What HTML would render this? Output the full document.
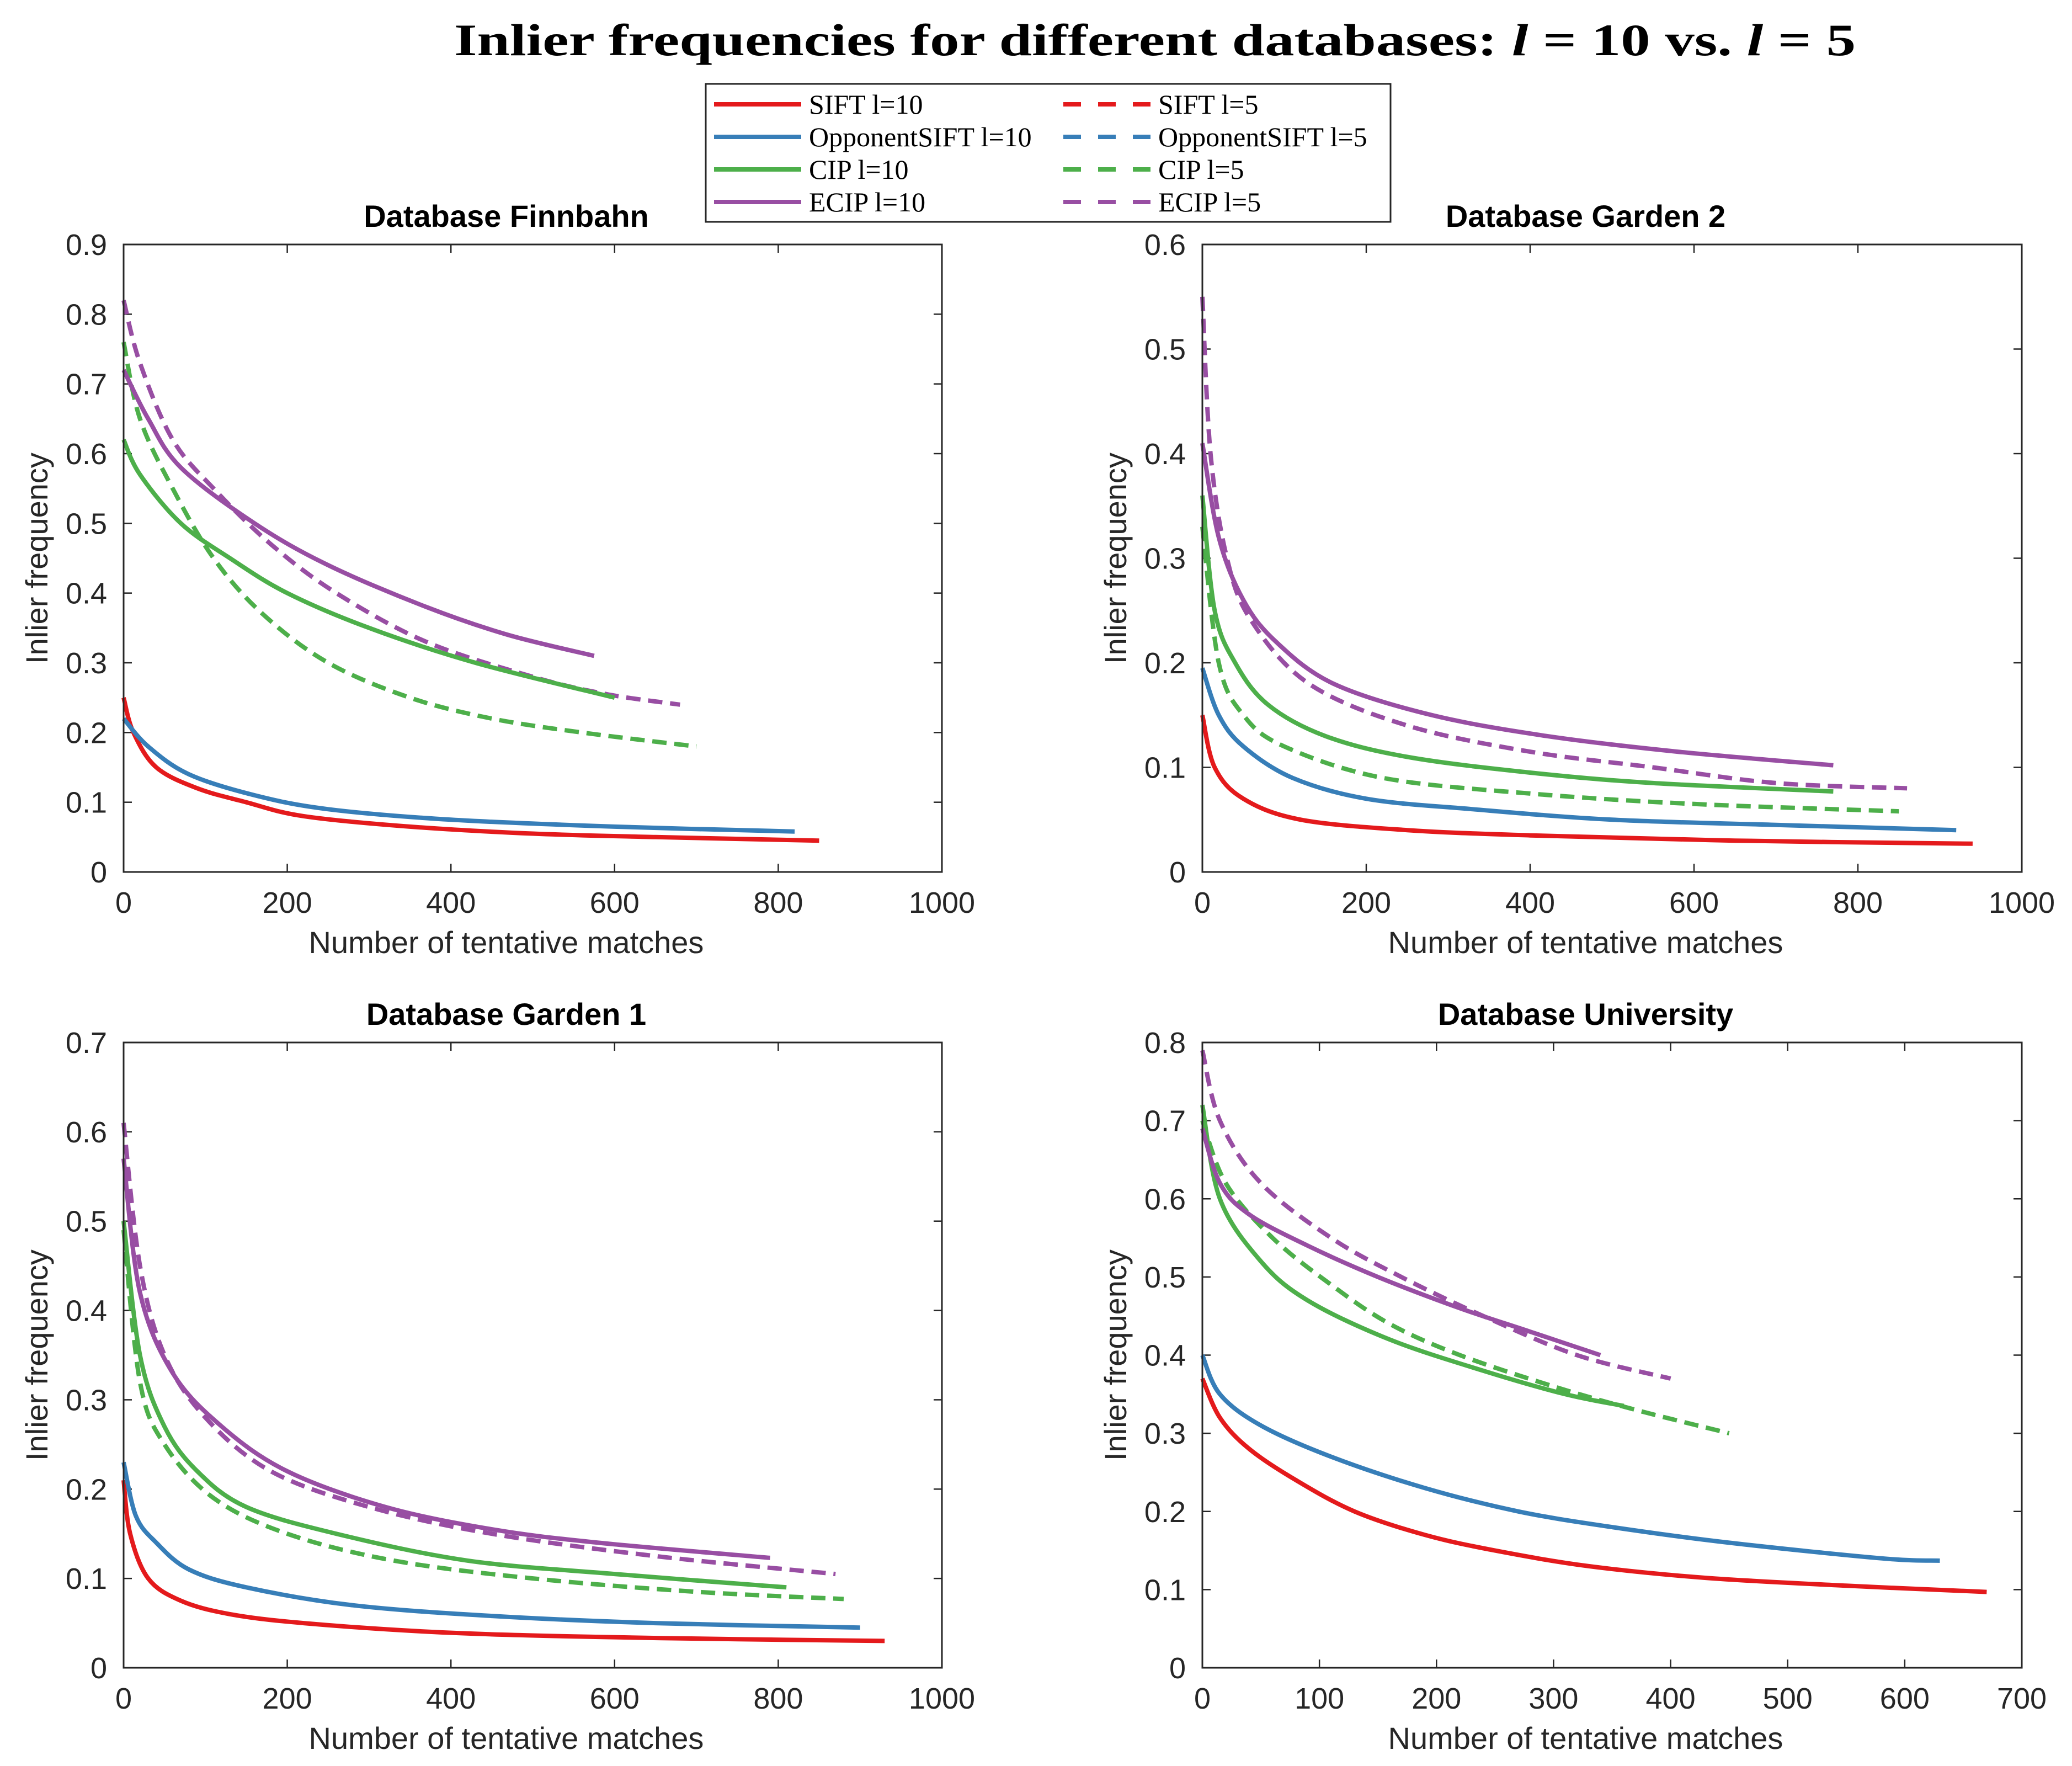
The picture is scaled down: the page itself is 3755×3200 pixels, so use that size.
<!DOCTYPE html>
<html><head><meta charset="utf-8"><style>
html,body{margin:0;padding:0;background:#fff;}
svg{display:block;}
</style></head><body>
<svg id="fig" width="3755" height="3200" viewBox="0 0 3755 3200" xmlns="http://www.w3.org/2000/svg">
<text x="2093" y="100" text-anchor="middle" font-family="Liberation Serif, serif" font-weight="bold" font-size="82" textLength="2540" lengthAdjust="spacingAndGlyphs">Inlier frequencies for different databases: <tspan font-style="italic">l</tspan> = 10 vs. <tspan font-style="italic">l</tspan> = 5</text>
<g id="plots"></g>
<g id="legend"></g>
</svg>
<script>
// ---- data ----
const seriesNames = ["SIFT l=10","OpponentSIFT l=10","CIP l=10","ECIP l=10","SIFT l=5","OpponentSIFT l=5","CIP l=5","ECIP l=5"];
const seriesColors = ["#e41a1c","#377eb8","#4daf4a","#984ea3","#e41a1c","#377eb8","#4daf4a","#984ea3"];
const panelTitles = ["Database Finnbahn","Database Garden 2","Database Garden 1","Database University"];
const yMaxes = [0.9,0.6,0.7,0.8];
const xMaxes = [1000,1000,1000,700];
const xTickSteps = [200,200,200,100];

// Finnbahn
const finn_sift10_x=[0,12,40,90,150,220,350,500,650,850];
const finn_sift10_y=[0.25,0.2,0.15,0.12,0.1,0.08,0.065,0.055,0.05,0.045];
const finn_opp10_x=[0,30,80,160,250,400,600,820];
const finn_opp10_y=[0.22,0.18,0.14,0.11,0.09,0.075,0.065,0.058];
const finn_cip10_x=[0,20,70,130,200,300,430,600];
const finn_cip10_y=[0.62,0.57,0.5,0.45,0.4,0.35,0.3,0.25];
const finn_ecip10_x=[0,30,70,160,250,370,470,575];
const finn_ecip10_y=[0.72,0.65,0.58,0.5,0.44,0.38,0.34,0.31];
const finn_cip5_x=[0,20,60,110,170,250,350,450,560,700];
const finn_cip5_y=[0.76,0.65,0.55,0.45,0.37,0.3,0.25,0.22,0.2,0.18];
const finn_ecip5_x=[0,20,60,110,180,260,370,500,590,680];
const finn_ecip5_y=[0.82,0.73,0.62,0.55,0.47,0.4,0.33,0.28,0.255,0.24];
// Garden 2
const g2_sift10_x=[0,15,50,120,250,400,650,940];
const g2_sift10_y=[0.15,0.1,0.07,0.05,0.04,0.035,0.03,0.027];
const g2_opp10_x=[0,20,50,110,200,330,500,700,920];
const g2_opp10_y=[0.195,0.15,0.12,0.09,0.07,0.06,0.05,0.045,0.04];
const g2_cip10_x=[0,15,40,80,150,250,400,550,770];
const g2_cip10_y=[0.36,0.25,0.2,0.16,0.13,0.11,0.095,0.085,0.077];
const g2_ecip10_x=[0,20,50,90,160,280,420,580,770];
const g2_ecip10_y=[0.41,0.32,0.26,0.22,0.18,0.15,0.13,0.115,0.102];
const g2_cip5_x=[0,20,50,100,220,400,600,850];
const g2_cip5_y=[0.33,0.2,0.15,0.12,0.09,0.075,0.065,0.058];
const g2_ecip5_x=[0,10,30,60,130,250,400,550,700,860];
const g2_ecip5_y=[0.55,0.4,0.3,0.24,0.18,0.14,0.115,0.1,0.085,0.08];
// Garden 1
const g1_sift10_x=[0,8,30,70,130,220,380,550,750,930];
const g1_sift10_y=[0.21,0.15,0.1,0.075,0.06,0.05,0.04,0.035,0.032,0.03];
const g1_opp10_x=[0,15,40,80,150,280,450,650,900];
const g1_opp10_y=[0.23,0.17,0.14,0.11,0.09,0.07,0.058,0.05,0.045];
const g1_cip10_x=[0,20,50,90,150,260,420,600,810];
const g1_cip10_y=[0.5,0.35,0.27,0.22,0.18,0.15,0.12,0.105,0.09];
const g1_ecip10_x=[0,20,60,120,200,320,450,580,790];
const g1_ecip10_y=[0.57,0.42,0.33,0.27,0.22,0.18,0.155,0.14,0.123];
const g1_cip5_x=[0,20,50,110,200,330,500,700,880];
const g1_cip5_y=[0.49,0.32,0.25,0.19,0.15,0.12,0.1,0.085,0.077];
const g1_ecip5_x=[0,20,50,100,180,300,450,650,870];
const g1_ecip5_y=[0.61,0.45,0.35,0.28,0.22,0.18,0.15,0.125,0.105];
// University
const uni_sift10_x=[0,15,40,80,130,190,250,330,430,550,670];
const uni_sift10_y=[0.37,0.32,0.28,0.24,0.2,0.17,0.15,0.13,0.115,0.105,0.097];
const uni_opp10_x=[0,15,50,110,190,270,350,450,580,630];
const uni_opp10_y=[0.4,0.35,0.31,0.27,0.23,0.2,0.18,0.16,0.14,0.137];
const uni_cip10_x=[0,15,50,90,160,240,310,360];
const uni_cip10_y=[0.72,0.6,0.52,0.47,0.42,0.38,0.35,0.335];
const uni_ecip10_x=[0,15,40,90,150,220,280,340];
const uni_ecip10_y=[0.69,0.62,0.58,0.54,0.5,0.46,0.43,0.4];
const uni_cip5_x=[0,20,60,110,160,220,300,370,450];
const uni_cip5_y=[0.7,0.62,0.55,0.49,0.44,0.4,0.36,0.33,0.3];
const uni_ecip5_x=[0,15,50,110,170,240,320,400];
const uni_ecip5_y=[0.79,0.7,0.62,0.55,0.5,0.45,0.4,0.37];

const panelSeries = [
 [[0,finn_sift10_x,finn_sift10_y],[1,finn_opp10_x,finn_opp10_y],[6,finn_cip5_x,finn_cip5_y],[7,finn_ecip5_x,finn_ecip5_y],[2,finn_cip10_x,finn_cip10_y],[3,finn_ecip10_x,finn_ecip10_y]],
 [[0,g2_sift10_x,g2_sift10_y],[1,g2_opp10_x,g2_opp10_y],[6,g2_cip5_x,g2_cip5_y],[7,g2_ecip5_x,g2_ecip5_y],[2,g2_cip10_x,g2_cip10_y],[3,g2_ecip10_x,g2_ecip10_y]],
 [[0,g1_sift10_x,g1_sift10_y],[1,g1_opp10_x,g1_opp10_y],[6,g1_cip5_x,g1_cip5_y],[7,g1_ecip5_x,g1_ecip5_y],[2,g1_cip10_x,g1_cip10_y],[3,g1_ecip10_x,g1_ecip10_y]],
 [[0,uni_sift10_x,uni_sift10_y],[1,uni_opp10_x,uni_opp10_y],[6,uni_cip5_x,uni_cip5_y],[7,uni_ecip5_x,uni_ecip5_y],[2,uni_cip10_x,uni_cip10_y],[3,uni_ecip10_x,uni_ecip10_y]]
];

const NS="http://www.w3.org/2000/svg";
function mk(tag,attrs,parent){const e=document.createElementNS(NS,tag);for(const k in attrs)e.setAttribute(k,attrs[k]);parent.appendChild(e);return e;}
const boxes=[[224,443,1707,1580],[2179,443,3664,1580],[224,1889,1707,3022],[2179,1889,3664,3022]];
const plots=document.getElementById('plots');
const slug=s=>s.toLowerCase().replace(/[^a-z0-9]+/g,'-').replace(/-+$/,'');

function smoothPath(pts){
  let d="M"+pts[0][0].toFixed(1)+","+pts[0][1].toFixed(1);
  for(let i=0;i<pts.length-1;i++){
    const p0=pts[Math.max(0,i-1)],p1=pts[i],p2=pts[i+1],p3=pts[Math.min(pts.length-1,i+2)];
    const c1x=p1[0]+(p2[0]-p0[0])/6,c1y=p1[1]+(p2[1]-p0[1])/6;
    const c2x=p2[0]-(p3[0]-p1[0])/6,c2y=p2[1]-(p3[1]-p1[1])/6;
    d+=" C"+c1x.toFixed(1)+","+c1y.toFixed(1)+" "+c2x.toFixed(1)+","+c2y.toFixed(1)+" "+p2[0].toFixed(1)+","+p2[1].toFixed(1);
  }
  return d;
}

panelTitles.forEach((title,pi)=>{
  const [L,T,R,B]=boxes[pi];
  const g=mk('g',{},plots);
  
  
  const xs=v=>L+(R-L)*v/xMaxes[pi];
  const ys=v=>B-(B-T)*v/yMaxes[pi];
  const ny=Math.round(yMaxes[pi]/0.1);
  for(let i=0;i<=ny;i++){
    const v=i*0.1,y=ys(v);
    mk('line',{x1:L,y1:y,x2:L+15,y2:y,stroke:'#262626','stroke-width':2.5},g);
    mk('line',{x1:R,y1:y,x2:R-15,y2:y,stroke:'#262626','stroke-width':2.5},g);
    const t=mk('text',{x:L-30,y:y+19,'text-anchor':'end','font-family':'Liberation Sans, sans-serif','font-size':54,fill:'#262626'},g);
    t.textContent=i===0?'0':v.toFixed(1);
    
    
  }
  for(let v=0;v<=xMaxes[pi];v+=xTickSteps[pi]){
    const x=xs(v);
    mk('line',{x1:x,y1:B,x2:x,y2:B-15,stroke:'#262626','stroke-width':2.5},g);
    mk('line',{x1:x,y1:T,x2:x,y2:T+15,stroke:'#262626','stroke-width':2.5},g);
    const t=mk('text',{x:x,y:B+74,'text-anchor':'middle','font-family':'Liberation Sans, sans-serif','font-size':54,fill:'#262626'},g);
    t.textContent=String(v);
    
    
  }
  panelSeries[pi].forEach(([si,xv,yv])=>{
    const pts=xv.map((x,i)=>[xs(x),ys(yv[i])]);
    const p=mk('path',{d:smoothPath(pts),fill:'none',stroke:seriesColors[si],'stroke-width':8,'stroke-linejoin':'round'},g);
    if(si>=4)p.setAttribute('stroke-dasharray','26 14');
    
    
  });
  const fr=mk('rect',{x:L,y:T,width:R-L,height:B-T,fill:'none',stroke:'#262626','stroke-width':3},g);
  
  
  const tt=mk('text',{x:(L+R)/2-48,y:T-32,'text-anchor':'middle','font-family':'Liberation Sans, sans-serif','font-weight':'bold','font-size':56,fill:'#000'},g);
  tt.textContent=title;
  
  
  const xl=mk('text',{x:(L+R)/2-48,y:B+147,'text-anchor':'middle','font-family':'Liberation Sans, sans-serif','font-size':56,fill:'#262626'},g);
  xl.textContent='Number of tentative matches';
  
  
  const yc=(T+B)/2, yx=(pi%2===0)?86:2041;
  const yl=mk('text',{x:yx,y:yc,'text-anchor':'middle','font-family':'Liberation Sans, sans-serif','font-size':56,fill:'#262626',transform:'rotate(-90 '+yx+' '+yc+')'},g);
  yl.textContent='Inlier frequency';
  
  
});

const lg=document.getElementById('legend');
mk('rect',{x:1279,y:152,width:1241,height:250,fill:'#fff',stroke:'#262626','stroke-width':3},lg);
seriesNames.forEach((name,i)=>{
  const col=i<4?0:1,row=i%4;
  const y=189+row*59;
  const x0=col===0?1294:1927;
  const ln=mk('line',{x1:x0,y1:y,x2:x0+158,y2:y,stroke:seriesColors[i],'stroke-width':8},lg);
  if(i>=4)ln.setAttribute('stroke-dasharray','32 31');
  
  
  const t=mk('text',{x:x0+172,y:y+17,'font-family':'Liberation Serif, serif','font-size':50,fill:'#000'},lg);
  t.textContent=name;
  
  
});
</script>
</body></html>
